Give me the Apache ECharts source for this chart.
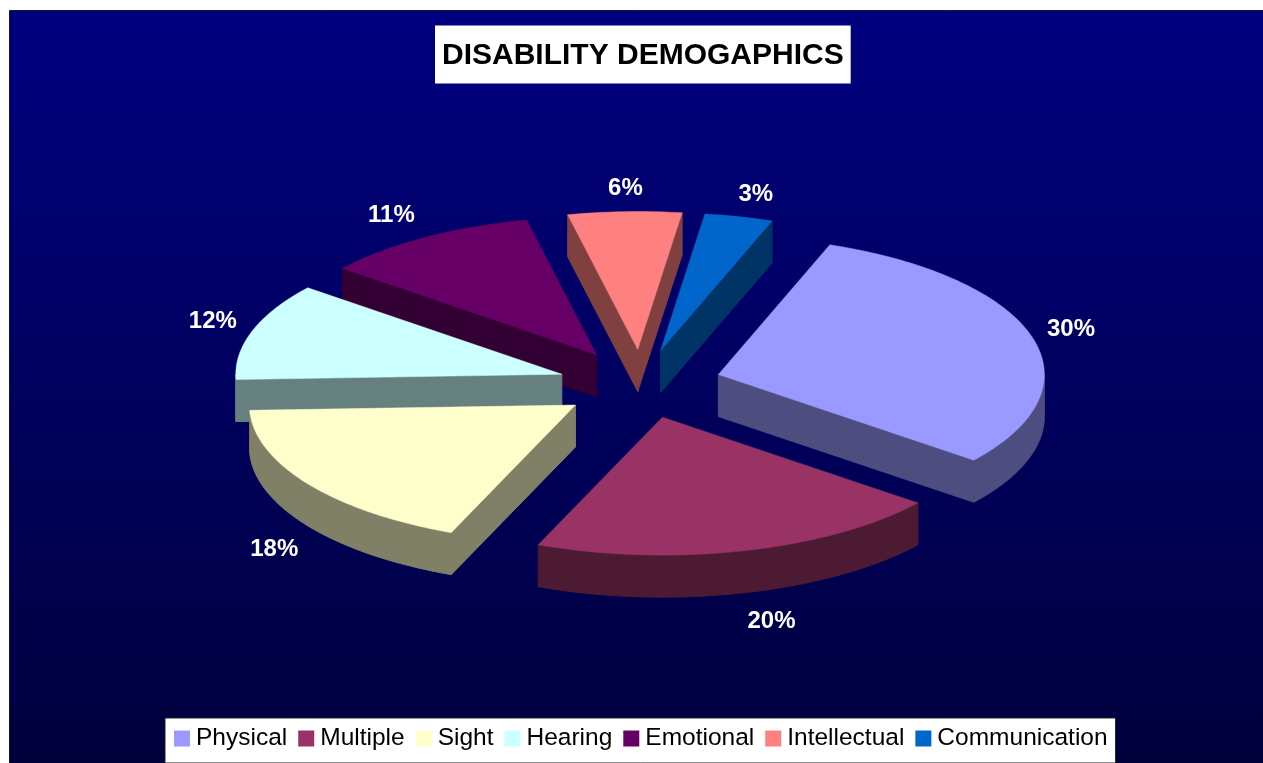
<!DOCTYPE html>
<html>
<head>
<meta charset="utf-8">
<style>html,body{margin:0;padding:0;background:#fff;overflow:hidden}#c{width:1263px;height:763px}</style>
<script src="https://cdn.jsdelivr.net/npm/echarts@6/dist/echarts.min.js"></script>
</head>
<body>
<div id="c"></div>
<script>
const categories = ['Physical','Multiple','Sight','Hearing','Emotional','Intellectual','Communication'];
const percents = [30,20,18,12,11,6,3];
const topColors = ['#9999FF','#993366','#FFFFCC','#CCFFFF','#660066','#FF8080','#0066CC'];
const sideColors = ['#4D4D80','#4D1A33','#808066','#668080','#330033','#804040','#003366'];
const drawOrder = [6,5,4,3,0,2,1];
const labelNudges = [[-3,-2],[7,13],[-8,23],[6,-9],[-8,-7],[-2,-5],[2,-5]];
// the tilted 3D view slightly shifts apparent angles around the disc
const viewWarp = [[20,0],[128,.4],[200,2.4],[265,3],[308,.8],[347.6,0],[369,-1.4],[380,0]];

const firstAngle = 20, cx = 640, cy = 384, rx = 326, ry = 138, depth = 42, explode = 0.25;
const total = percents.reduce((a,b)=>a+b,0);
const starts = [];
percents.reduce((acc,v,i)=>{starts[i]=acc;return acc+v/total*360;},firstAngle);
const rad = d=>d*Math.PI/180;
function warp(a){
  for(let k=1;k<viewWarp.length;k++){
    const p=viewWarp[k-1],q=viewWarp[k];
    if(a<=q[0]+1e-6) return a+p[1]+(q[1]-p[1])*(a-p[0])/(q[0]-p[0]);
  }
  return a;
}

function sliceChildren(i){
  const raw0 = starts[i], raw1 = raw0 + percents[i]/total*360, mid = (raw0+raw1)/2;
  const a0 = warp(raw0), a1 = warp(raw1);
  const ox = cx + explode*rx*Math.sin(rad(mid)), oy = cy - explode*ry*Math.cos(rad(mid));
  const at = (a,dz)=>[ox+rx*Math.sin(rad(a)), oy-ry*Math.cos(rad(a))+(dz||0)];
  const apex = [ox,oy], apexD = [ox,oy+depth];
  const wall = pts=>({type:'polygon',silent:true,shape:{points:pts},style:{fill:sideColors[i],stroke:sideColors[i],lineWidth:1}});
  const kids = [];
  if(Math.sin(rad(a0))<0) kids.push(wall([apex,at(a0),at(a0,depth),apexD]));
  if(Math.sin(rad(a1))>0) kids.push(wall([apex,at(a1),at(a1,depth),apexD]));
  const lo = Math.max(a0,90), hi = Math.min(a1,270);
  if(hi>lo){
    const up=[],down=[];
    for(let a=lo;;a+=1){const b=Math.min(a,hi);up.push(at(b));down.unshift(at(b,depth));if(a>=hi)break;}
    kids.push(wall(up.concat(down)));
  }
  const top=[apex];
  for(let a=a0;;a+=1){const b=Math.min(a,a1);top.push(at(b));if(a>=a1)break;}
  kids.push({type:'polygon',silent:true,shape:{points:top},style:{fill:topColors[i],stroke:topColors[i],lineWidth:0.5}});
  const lr = 370;
  kids.push({type:'text',silent:true,
    x:ox+lr*Math.sin(rad(mid))+labelNudges[i][0],
    y:oy-lr*(141/rx)*Math.cos(rad(mid))+depth*Math.max(0,-Math.cos(rad(mid)))+labelNudges[i][1]+ (lr*(141-ry)/rx)*Math.cos(rad(mid)),
    style:{text:percents[i]+'%',fill:'#fff',font:'bold 24px "Liberation Sans", Arial, sans-serif',align:'center',verticalAlign:'middle'}});
  return {type:'group',children:kids};
}

const chart = echarts.init(document.getElementById('c'),null,{renderer:'canvas'});
chart.setOption({
  animation:false,
  graphic:[{type:'rect',z:-10,silent:true,shape:{x:9.5,y:10.5,width:1260,height:760},
    style:{stroke:'#15153a',lineWidth:1,fill:{type:'linear',x:0,y:0,x2:0,y2:1,colorStops:[{offset:0,color:'#000080'},{offset:1,color:'#00003C'}]}}}],
  title:{text:'DISABILITY DEMOGAPHICS',left:435,top:26,backgroundColor:'#fff',padding:[15,7,13,7],
    textStyle:{color:'#000',fontFamily:'"Liberation Sans", Arial, sans-serif',fontWeight:'bold',fontSize:30,lineHeight:29}},
  legend:{left:165,top:718,orient:'horizontal',data:categories,icon:'rect',itemWidth:16,itemHeight:16,itemGap:11,itemStyle:{borderWidth:0},
    backgroundColor:'#fff',borderColor:'#222',borderWidth:1,padding:[8,8,12,9],selectedMode:false,
    textStyle:{color:'#000',fontFamily:'"Liberation Sans", Arial, sans-serif',fontSize:24.5,padding:[0,0,0,1]}},
  series:drawOrder.map(i=>({
    type:'custom',name:categories[i],coordinateSystem:'none',silent:true,
    itemStyle:{color:topColors[i]},
    data:[[percents[i]]],
    renderItem:()=>sliceChildren(i)
  }))
});
</script>
</body>
</html>
